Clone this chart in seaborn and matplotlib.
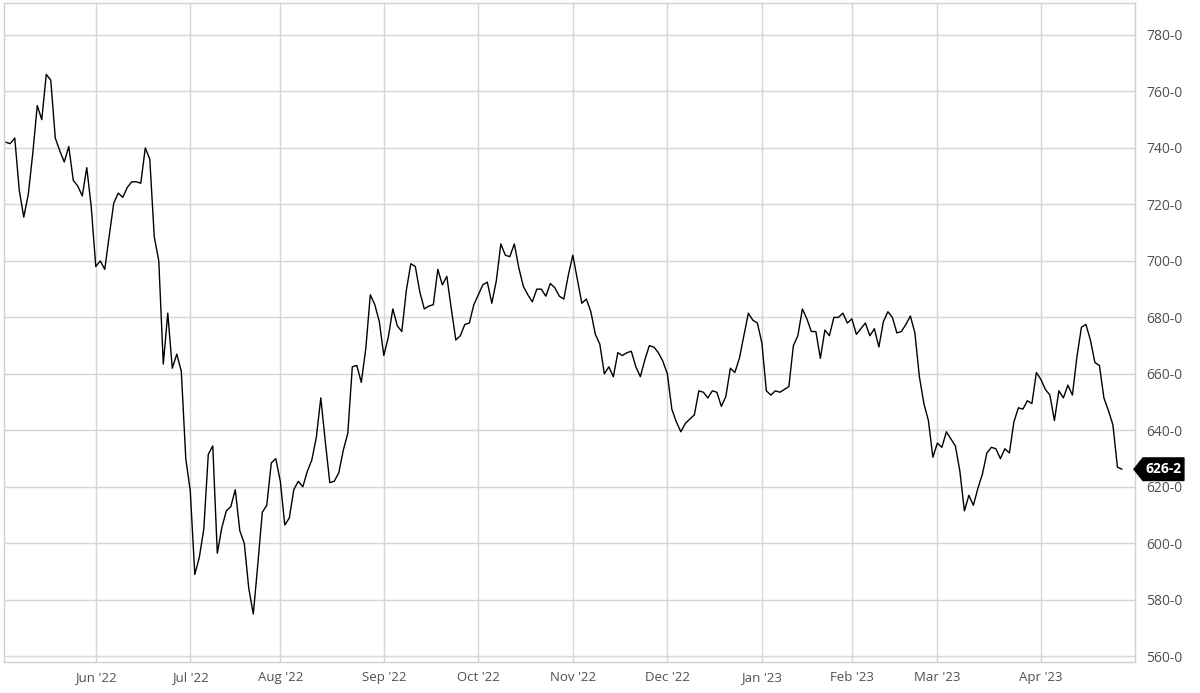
import numpy as np
import pandas as pd
import matplotlib
matplotlib.use("Agg")
import matplotlib.pyplot as plt
import matplotlib.transforms as mtransforms
from matplotlib.patches import Polygon
from matplotlib.ticker import FuncFormatter
import seaborn as sns

# daily settlement prices, one list per month (trading days)
months = ["May '22", "Jun '22", "Jul '22", "Aug '22", "Sep '22", "Oct '22",
          "Nov '22", "Dec '22", "Jan '23", "Feb '23", "Mar '23", "Apr '23"]

may_22 = [742, 741.5, 743.5, 725, 715.5, 723.5, 738, 755, 750, 766, 764, 743.5,
          739, 735, 740.5, 728.5, 726.5, 723, 733, 719]
jun_22 = [698, 700, 697, 709, 720.5, 724, 722.5, 726, 728, 728, 727.5, 740, 736,
          708.5, 700, 663.5, 681.5, 662, 667, 661, 630]
jul_22 = [618.5, 589, 595, 605, 631.5, 634.5, 596.5, 605.5, 611.5, 613, 619, 604.5,
          600, 584, 575, 592.5, 611, 613.5, 628.5, 630]
aug_22 = [622, 606.5, 609, 619, 622, 620, 625.5, 629.5, 637.5, 651.5, 636, 621.5,
          622, 625, 633, 639, 662.5, 663, 657, 669, 688, 684.5, 678.5]
sep_22 = [666.5, 673, 683, 677, 675, 689.5, 699, 698, 689, 683, 684, 684.5, 697,
          691.5, 694.5, 683, 672, 673.5, 677.5, 678, 684.5]
oct_22 = [688, 691.5, 692.5, 685, 693, 706, 702, 701.5, 706, 697.5, 691, 688,
          685.5, 690, 690, 687.5, 692, 690.5, 687.5, 686.5, 695]
nov_22 = [702, 693.5, 685, 686.5, 682, 674, 670.5, 660, 662.5, 659, 667.5, 666.5,
          667.5, 668, 662.5, 659, 665, 670, 669.5, 667.5, 664.5]
dec_22 = [660, 647.5, 643, 639.5, 642.5, 644, 645.5, 654, 653.5, 651.5, 654, 653.5,
          648.5, 652, 662, 660.5, 665.5, 673.5, 681.5, 679, 678]
jan_23 = [671, 654, 652.5, 654, 653.5, 654.5, 655.5, 670, 673.5, 683, 679.5, 675,
          675, 665.5, 675.5, 673.5, 680, 680, 681.5, 678]
feb_23 = [679.5, 674, 676, 678, 673.5, 676, 669.5, 678.5, 682, 680, 674.5, 675,
          677.5, 680.5, 674.5, 659, 649.5, 643.5, 630.5]
mar_23 = [635.5, 634, 639.5, 637, 634.5, 625.5, 611.5, 617, 613.5, 619.5, 624.5,
          632, 634, 633.5, 630, 633.5, 632, 643, 648, 647.5, 650.5, 649.5, 660.5]
apr_23 = [658, 654.5, 652.5, 643.5, 654, 651.5, 656, 652.5, 666, 676.5, 677.5, 672,
          664, 663, 651.5, 647, 642, 627, 626.25]

month_values = [may_22, jun_22, jul_22, aug_22, sep_22, oct_22,
                nov_22, dec_22, jan_23, feb_23, mar_23, apr_23]
last_label = "626-2"

prices = [v for m in month_values for v in m]
month_start = np.cumsum([0] + [len(m) for m in month_values[:-1]])
df = pd.DataFrame({"day": np.arange(len(prices)), "price": prices})

sns.set_style("white")
plt.rcParams["font.family"] = ["Open Sans", "DejaVu Sans"]

fig = plt.figure(figsize=(12, 6.93), dpi=100)
ax = fig.add_axes([0.0033, 0.0447, 0.9425, 0.951])
sns.lineplot(data=df, x="day", y="price", color="black", linewidth=1.0, ax=ax)

ax.set_xlim(-0.4, 250.9)
ax.set_ylim(558, 791.3)
ax.set_yticks(range(560, 781, 20))
ax.yaxis.tick_right()
ax.yaxis.set_major_formatter(FuncFormatter(lambda v, p: f"{int(v)}-0"))
ax.set_xticks(month_start[1:])
ax.set_xticklabels(months[1:])
ax.set_xlabel("")
ax.set_ylabel("")

ax.grid(True, color="#d6d6d6", linewidth=1)
ax.set_axisbelow(True)
ax.tick_params(axis="y", length=0, pad=8, labelsize=10, labelcolor="#505050")
ax.tick_params(axis="x", length=3.6, width=1, color="#d0d0d0", pad=3,
               labelsize=9.5, labelcolor="#505050")
for s in ax.spines.values():
    s.set_color("#d0d0d0")
    s.set_linewidth(1)

# last value tag on the right axis
trans = mtransforms.blended_transform_factory(ax.transAxes, ax.transData)
last = prices[-1]
h = 4.0
tag = Polygon([(0.9991, last), (1.0071, last + h), (1.0433, last + h),
               (1.0433, last - h), (1.0071, last - h)],
              closed=True, transform=trans, facecolor="black", edgecolor="black",
              clip_on=False, zorder=5)
ax.add_patch(tag)
ax.text(1.0252, last, last_label, transform=trans, color="white", fontsize=10,
        fontweight="bold", ha="center", va="center", zorder=6, clip_on=False)

fig.savefig("out.png", dpi=100)
